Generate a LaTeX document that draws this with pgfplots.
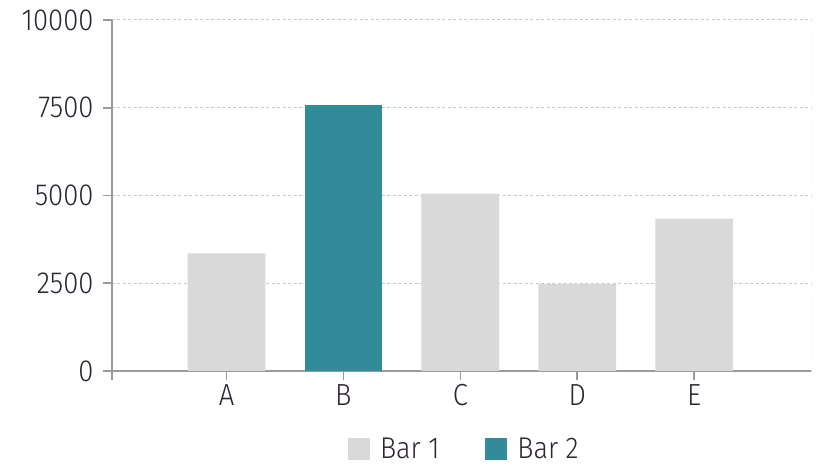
\documentclass[border=0pt]{standalone}
\usepackage{fontspec}
\setmainfont{Fira Sans}[UprightFont={* Light}, FakeStretch=0.9]
\usepackage{pgfplots}
\pgfplotsset{compat=1.18}
\definecolor{txt}{HTML}{2E2433}
\definecolor{axgrey}{HTML}{9A9A9A}
\definecolor{gridgrey}{HTML}{C8C8C8}
\definecolor{bargrey}{HTML}{D9D9D9}
\definecolor{teal}{HTML}{318B98}
\begin{document}
\begin{tikzpicture}[x=1pt,y=1pt]
\useasboundingbox (-112,-94) rectangle (707,371);
\begin{axis}[
  scale only axis,
  width=699pt, height=351pt,
  xmin=-0.98, xmax=5,
  ymin=0, ymax=10000,
  ytick={0,2500,5000,7500,10000},
  xtick={0,1,2,3,4},
  xticklabels={A,B,C,D,E},
  extra x ticks={-0.98},
  extra x tick labels={},
  axis x line*=bottom,
  axis y line*=left,
  axis line style={axgrey, line width=1.6pt, -},
  tick style={axgrey, line width=1.6pt},
  major tick length=9pt,
  tick align=outside,
  ymajorgrids,
  major grid style={gridgrey, line width=1pt, dash pattern=on 3pt off 2.5pt},
  extra x tick style={grid=none},
  ticklabel style={font=\fontsize{30.5}{33}\selectfont, text=txt},
  /pgf/number format/assume math mode=true,
  scaled y ticks=false,
  yticklabel style={/pgf/number format/fixed, /pgf/number format/1000 sep={}, xshift=-6pt},
  xticklabel style={yshift=-1pt},
  ybar, bar width=0.665, bar shift=0pt,
  legend columns=2,
  legend style={at={(0.504,-0.222)}, anchor=center, draw=none, fill=none,
    font=\fontsize{30}{30}\selectfont, text=txt, inner sep=0pt,
    nodes={inner ysep=1pt},
    /tikz/every odd column/.append style={column sep=8pt},
    /tikz/every even column/.append style={column sep=44pt}},
  legend image code/.code={\fill[#1] (0pt,-11pt) rectangle (22pt,11pt);},
]
\addplot[fill=bargrey, draw=none] coordinates {(0,3350) (2,5050) (3,2480) (4,4340)};
\addlegendentry{Bar 1}
\addplot[fill=teal, draw=none] coordinates {(1,7580)};
\addlegendentry{Bar 2}
\draw[gridgrey, line width=1pt, dash pattern=on 3pt off 2.5pt] (rel axis cs:1,0) -- (rel axis cs:1,1);
\end{axis}
\end{tikzpicture}
\end{document}
